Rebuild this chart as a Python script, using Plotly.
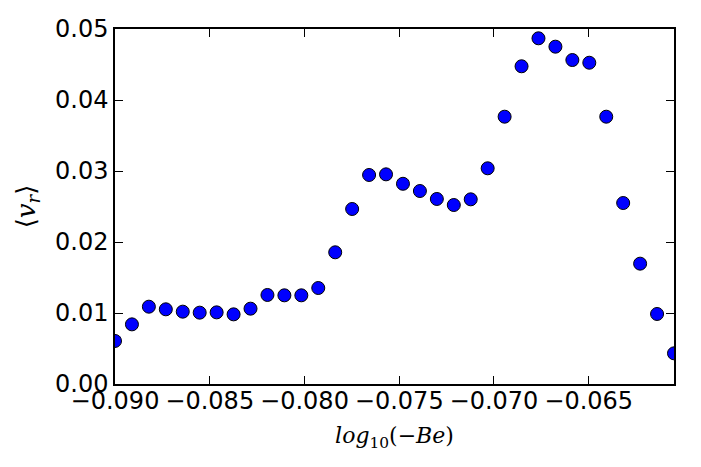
import plotly.graph_objects as go

x_vals = [-0.09 + i * 0.0295 / 33 for i in range(34)]
vr_vals = [0.00606, 0.00840, 0.01089, 0.01052, 0.01019, 0.01005, 0.01009, 0.00981,
           0.01061, 0.01254, 0.01249, 0.01249, 0.01352, 0.01855, 0.02465, 0.02944,
           0.02953, 0.02820, 0.02718, 0.02606, 0.02521, 0.02601, 0.03038, 0.03765,
           0.04475, 0.04869, 0.04751, 0.04563, 0.04525, 0.03765, 0.02549, 0.01695,
           0.00986, 0.00432]
x_ticks = [-0.090, -0.085, -0.080, -0.075, -0.070, -0.065]
y_ticks = [0.00, 0.01, 0.02, 0.03, 0.04, 0.05]

fig = go.Figure(go.Scatter(
    x=x_vals, y=vr_vals, mode="markers",
    marker=dict(size=13, color="#0000ff", line=dict(color="black", width=1)),
    cliponaxis=True,
))

tickfont = dict(family="DejaVu Sans", size=24, color="black")
axis_common = dict(showgrid=False, zeroline=False, showline=True, linecolor="black",
                   linewidth=1.5, mirror="ticks", ticks="inside", ticklen=8,
                   tickwidth=1, tickcolor="black", tickfont=tickfont)
fig.update_xaxes(range=[-0.090, -0.0605], tickvals=x_ticks, tickformat=".3f",
                 ticklabelstandoff=-6,
                 title=dict(text="<i>log</i><sub>10</sub>(−<i>Be</i>)",
                            font=dict(family="DejaVu Serif", size=22, color="black"),
                            standoff=14),
                 **axis_common)
fig.update_yaxes(range=[0, 0.05], tickvals=y_ticks, tickformat=".2f",
                 title=dict(text="⟨<i>v</i><sub><i>r</i></sub>⟩",
                            font=dict(family="DejaVu Serif", size=26, color="black"),
                            standoff=12),
                 **axis_common)
fig.update_layout(width=701, height=467, margin=dict(l=115, r=27, t=29, b=83),
                  plot_bgcolor="white", paper_bgcolor="white", showlegend=False)
fig.write_html("out.html")
